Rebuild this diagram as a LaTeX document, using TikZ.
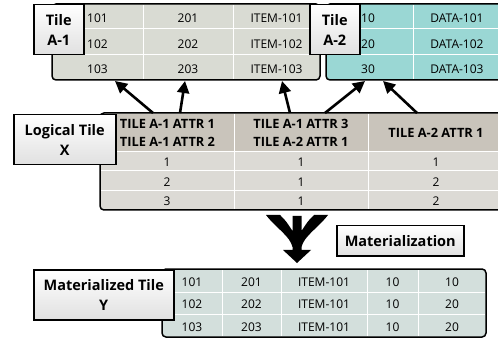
\documentclass[tikz,border=0pt]{standalone}
\usepackage{fontspec}
\setmainfont{Open Sans}
\usetikzlibrary{arrows.meta}

\definecolor{tileA}{HTML}{D9DBD3}
\definecolor{tileB}{HTML}{9AD7D4}
\definecolor{logHead}{HTML}{C9C4BB}
\definecolor{logRow}{HTML}{DCDAD5}
\definecolor{matRow}{HTML}{D3DFDC}

\tikzset{
  tablebox/.style={draw=black, line width=1.5pt, rounded corners=4pt},
  tablefill/.style={rounded corners=4pt},
  gridline/.style={draw=white, line width=1pt},
  cell/.style={inner sep=0pt, font=\fontsize{12}{14}\selectfont},
  headcell/.style={inner sep=0pt, align=center, font=\bfseries\fontsize{12.8}{18.5}\selectfont},
  tag/.style={draw=black, line width=1.5pt, top color=white, bottom color=black!12,
    align=center, inner sep=0pt, anchor=north west,
    font=\bfseries\fontsize{14.5}{20.5}\selectfont},
  link/.style={line width=2.6pt, -{Triangle[length=12pt,width=12pt]}},
}

\begin{document}
\begin{tikzpicture}[x=1pt, y=-1pt]
\useasboundingbox (0,0) rectangle (498,339);
\clip (0,0) rectangle (498,339);

% ---- Tile A-1 ----
\fill[tablefill, tileA] (52,4) rectangle (320,80);
\draw[gridline] (143,5) -- (143,79) (233,5) -- (233,79)
                (53,29) -- (319,29) (53,55) -- (319,55);
\draw[tablebox] (52,4) rectangle (320,80);
\foreach \a/\b/\c [count=\r] in {101/201/ITEM-101, 102/202/ITEM-102, 103/203/ITEM-103} {
  \pgfmathsetmacro\yy{17.5+25.5*(\r-1)+1}
  \node[cell] (a1-\r-1) at (97.5,\yy) {\a};
  \node[cell] (a1-\r-2) at (188,\yy) {\b};
  \node[cell] (a1-\r-3) at (276.5,\yy) {\c};
}

% ---- Tile A-2 ----
\fill[tablefill, tileB] (326,4) rectangle (503,80);
\draw[gridline] (413,5) -- (413,79) (327,29) -- (502,29) (327,55) -- (502,55);
\draw[tablebox] (326,4) rectangle (503,80);
\foreach \a/\b [count=\r] in {10/DATA-101, 20/DATA-102, 30/DATA-103} {
  \pgfmathsetmacro\yy{17.5+25.5*(\r-1)+1}
  \node[cell] (a2-\r-1) at (368,\yy) {\a};
  \node[cell] (a2-\r-2) at (457,\yy) {\b};
}

% ---- Logical tile X ----
\fill[tablefill, logRow] (100,113) rectangle (505,210);
\fill[logHead] (101,114) rectangle (504,152);
\draw[gridline] (234,114) -- (234,209) (368,114) -- (368,209)
                (101,152) -- (504,152) (101,171) -- (504,171) (101,191) -- (504,191);
\draw[tablebox] (100,113) rectangle (505,210);
\node[headcell] (h1) at (167.5,133) {TILE A-1 ATTR 1\\TILE A-1 ATTR 2};
\node[headcell] (h2) at (301,133) {TILE A-1 ATTR 3\\TILE A-2 ATTR 1};
\node[headcell] (h3) at (436,133) {TILE A-2 ATTR 1};
\foreach \a/\b/\c [count=\r] in {1/1/1, 2/1/2, 3/1/2} {
  \pgfmathsetmacro\yy{162+19.8*(\r-1)}
  \node[cell] (x-\r-1) at (167,\yy) {\a};
  \node[cell] (x-\r-2) at (301,\yy) {\b};
  \node[cell] (x-\r-3) at (436,\yy) {\c};
}

% ---- Materialized tile Y ----
\fill[tablefill, matRow] (162,269) rectangle (486,337);
\draw[gridline] (222,270) -- (222,336) (281,270) -- (281,336) (367,270) -- (367,336)
                (418,270) -- (418,336) (163,292) -- (485,292) (163,314) -- (485,314);
\draw[tablebox] (162,269) rectangle (486,337);
\foreach \a/\b/\c/\d/\e [count=\r] in
  {101/201/ITEM-101/10/10, 102/202/ITEM-101/10/20, 103/203/ITEM-101/10/20} {
  \pgfmathsetmacro\yy{282+22.5*(\r-1)}
  \node[cell] (y-\r-1) at (192,\yy) {\a};
  \node[cell] (y-\r-2) at (251.5,\yy) {\b};
  \node[cell] (y-\r-3) at (324,\yy) {\c};
  \node[cell] (y-\r-4) at (392.5,\yy) {\d};
  \node[cell] (y-\r-5) at (452,\yy) {\e};
}

% ---- name tags ----
\node[tag, minimum width=50pt, minimum height=50pt] (tagA1) at (33,4) {Tile\\A-1};
\node[tag, minimum width=50pt, minimum height=50pt] (tagA2) at (309,4) {Tile\\A-2};
\node[tag, minimum width=102pt, minimum height=50pt] (tagX) at (13,114) {Logical Tile\\X};
\node[tag, minimum width=140pt, minimum height=50pt] (tagY) at (33,269) {Materialized Tile\\Y};
\node[tag, minimum width=127pt, minimum height=30pt] (tagM) at (336,225) {Materialization};

% ---- attribute references ----
\coordinate (s1) at (153,113);  \coordinate (e1) at (115,81);
\coordinate (s2) at (180,113);  \coordinate (e2) at (185,81);
\coordinate (s3) at (290,113);  \coordinate (e3) at (282,81);
\coordinate (s4) at (325,113);  \coordinate (e4) at (365,81);
\coordinate (s5) at (417,113);  \coordinate (e5) at (383,81);
\foreach \i in {1,...,5} \draw[link] (s\i) -- (e\i);

% ---- merging arrow ----
\fill[black]
  (266,215) -- (280,215) .. controls (286,221) .. (292.5,231)
  -- (292.5,216) -- (301.5,216) -- (301.5,231)
  .. controls (308,221) .. (314,215) -- (328,215)
  .. controls (318,228) and (304,236) .. (301.5,247)
  -- (301.5,250) -- (311,250) -- (297,263) -- (283,250) -- (292.5,250) -- (292.5,247)
  .. controls (290,236) and (276,228) .. (266,215) -- cycle;
\end{tikzpicture}
\end{document}
